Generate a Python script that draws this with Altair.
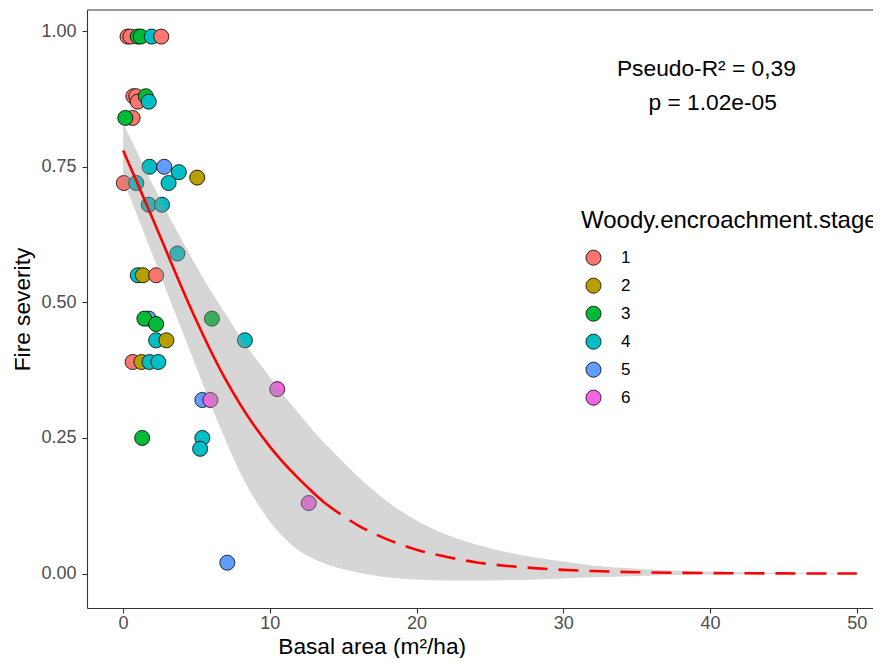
import altair as alt
import pandas as pd

# ---- observed points (basal area, fire severity, woody encroachment stage) ----
pt_x = [0.3, 0.5, 1.0, 1.2, 1.95, 2.6,
        0.7, 0.9, 1.0, 1.55, 1.75,
        0.65, 0.15,
        1.8, 2.8, 3.8, 3.1, 5.05, 0.05, 0.9, 1.75, 2.65,
        3.7,
        1.0, 1.35, 2.25,
        1.75, 1.45, 2.25, 6.05,
        2.25, 2.95, 8.3,
        0.65, 1.25, 1.8, 2.4,
        10.5, 5.4, 5.95,
        1.3, 5.4, 5.25,
        12.65, 7.1]
pt_y = [0.99, 0.99, 0.99, 0.99, 0.99, 0.99,
        0.88, 0.88, 0.87, 0.88, 0.87,
        0.84, 0.84,
        0.75, 0.75, 0.74, 0.72, 0.73, 0.72, 0.72, 0.68, 0.68,
        0.59,
        0.55, 0.55, 0.55,
        0.47, 0.47, 0.46, 0.47,
        0.43, 0.43, 0.43,
        0.39, 0.39, 0.39, 0.39,
        0.34, 0.32, 0.32,
        0.25, 0.25, 0.23,
        0.13, 0.02]
pt_stage = ["1", "1", "3", "3", "4", "1",
            "1", "1", "1", "3", "4",
            "1", "3",
            "4", "5", "4", "4", "2", "1", "4", "4", "4",
            "4",
            "4", "2", "1",
            "5", "3", "3", "3",
            "4", "2", "4",
            "1", "2", "4", "4",
            "6", "5", "6",
            "3", "4", "4",
            "6", "5"]

stages = ["1", "2", "3", "4", "5", "6"]
stage_colors = ["#F8766D", "#B79F00", "#00BA38", "#00BFC4", "#619CFF", "#F564E3"]

# ---- fitted curve and confidence band ----
fit_x = [0, 1, 2, 3, 4, 5, 6, 7, 8, 9, 10, 11, 12, 13, 13.7, 14, 15, 16, 17, 18,
         19, 20, 22, 24, 26, 28, 30, 32, 35, 40, 45, 50]
fit_y = [0.78, 0.718, 0.655, 0.591, 0.527, 0.466, 0.409, 0.357, 0.311, 0.270,
         0.234, 0.202, 0.174, 0.148, 0.131, 0.125, 0.106, 0.089, 0.075, 0.063,
         0.053, 0.044, 0.031, 0.021, 0.0145, 0.010, 0.0068, 0.0046, 0.0025,
         0.0009, 0.0003, 0.0001]
band_hi = [0.83, 0.775, 0.718, 0.665, 0.615, 0.566, 0.52, 0.478, 0.436, 0.398,
           0.362, 0.327, 0.294, 0.262, 0.241, 0.233, 0.205, 0.179, 0.155, 0.133,
           0.114, 0.098, 0.072, 0.054, 0.040, 0.030, 0.022, 0.015, 0.009,
           0.0035, 0.0012, 0.0004]
band_lo = [0.725, 0.658, 0.588, 0.518, 0.449, 0.38, 0.31, 0.245, 0.185, 0.136,
           0.096, 0.065, 0.042, 0.027, 0.019, 0.016, 0.008, 0.002, -0.003, -0.007,
           -0.0095, -0.011, -0.0128, -0.013, -0.0123, -0.0108, -0.009, -0.007,
           -0.0045, -0.0018, -0.0006, -0.0002]
solid_until = 13.7

annot_lines = ["Pseudo-R\u00b2 = 0,39", "p = 1.02e-05"]
x_ticks = [0, 10, 20, 30, 40, 50]
y_ticks = [0.0, 0.25, 0.5, 0.75, 1.0]

FONT = "Liberation Sans"
W, H = 786, 598

pts = pd.DataFrame({"x": pt_x, "y": pt_y, "stage": pt_stage})
fit = pd.DataFrame({"x": fit_x, "y": fit_y, "lo": band_lo, "hi": band_hi})
solid = fit[fit["x"] <= solid_until]
dashed = fit[fit["x"] >= solid_until]

xscale = alt.Scale(domain=[-2.46, 51.1], nice=False, zero=False)
yscale = alt.Scale(domain=[-0.0635, 1.039], nice=False, zero=False)

xaxis = alt.Axis(values=x_ticks, format="d", title="Basal area (m\u00b2/ha)",
                 titleX=284.7, titleY=45.5, titleAlign="center",
                 titleBaseline="alphabetic", labelPadding=1.5, grid=False)
yaxis = alt.Axis(values=y_ticks, format=".2f", title="Fire severity",
                 titleX=-65, titleY=299, titleAlign="center", titleBaseline="middle",
                 titleAngle=270, labelPadding=6, grid=False)

points = alt.Chart(pts).mark_circle(size=227, opacity=1, stroke="black",
                                    strokeWidth=0.8).encode(
    x=alt.X("x:Q", scale=xscale, axis=xaxis),
    y=alt.Y("y:Q", scale=yscale, axis=yaxis),
    color=alt.Color("stage:N", scale=alt.Scale(domain=stages, range=stage_colors),
                    legend=alt.Legend(orient="none", legendX=494, legendY=198.5,
                                      title="Woody.encroachment.stage",
                                      titleFontSize=24, titleFont=FONT,
                                      titleFontWeight="normal", titleColor="black",
                                      titlePadding=16.7, titleLimit=1000,
                                      labelFontSize=17, labelFont=FONT,
                                      labelColor="black", labelOffset=19,
                                      symbolType="circle", symbolSize=227,
                                      symbolStrokeColor="black", symbolStrokeWidth=0.8,
                                      symbolOpacity=1, symbolOffset=4,
                                      rowPadding=9, padding=0)),
)

band = alt.Chart(fit).mark_area(color="#999999", opacity=0.4, interpolate="monotone",
                                clip=True).encode(
    x=alt.X("x:Q", scale=xscale), y=alt.Y("lo:Q", scale=yscale), y2="hi:Q")

line_solid = alt.Chart(solid).mark_line(color="#FF0000", strokeWidth=2.6,
                                        interpolate="monotone").encode(
    x=alt.X("x:Q", scale=xscale), y=alt.Y("y:Q", scale=yscale))

line_dash = alt.Chart(dashed).mark_line(color="#FF0000", strokeWidth=2.6,
                                        strokeDash=[20, 11], interpolate="monotone",
                                        clip=True).encode(
    x=alt.X("x:Q", scale=xscale), y=alt.Y("y:Q", scale=yscale))

txt1 = alt.Chart(pd.DataFrame({"t": [annot_lines[0]]})).mark_text(
    font=FONT, fontSize=22.76, color="black", align="center", baseline="middle").encode(
    x=alt.value(619.4), y=alt.value(59), text="t:N")
txt2 = alt.Chart(pd.DataFrame({"t": [annot_lines[1]]})).mark_text(
    font=FONT, fontSize=22.76, color="black", align="center", baseline="middle").encode(
    x=alt.value(625.7), y=alt.value(93), text="t:N")

top_border = alt.Chart(pd.DataFrame({"t": [0]})).mark_rule(
    color="#333333", strokeWidth=1.1).encode(
    x=alt.value(0), x2=alt.value(W), y=alt.value(0))

chart = alt.layer(points, band, line_solid, line_dash, txt1, txt2, top_border).properties(
    width=W, height=H,
    autosize=alt.AutoSizeParams(type="none"),
    padding={"left": 79, "top": 2, "right": 0, "bottom": 50},
).configure_view(stroke=None).configure_axis(
    labelFont=FONT, titleFont=FONT, labelFontSize=18, titleFontSize=22.7,
    labelColor="#4D4D4D", titleColor="black", titleFontWeight="normal",
    domainColor="#333333", domainWidth=1.1, tickColor="#333333", tickWidth=1.1,
    tickSize=5,
)

chart.save("out.html", embed_options={"renderer": "svg", "actions": False})
